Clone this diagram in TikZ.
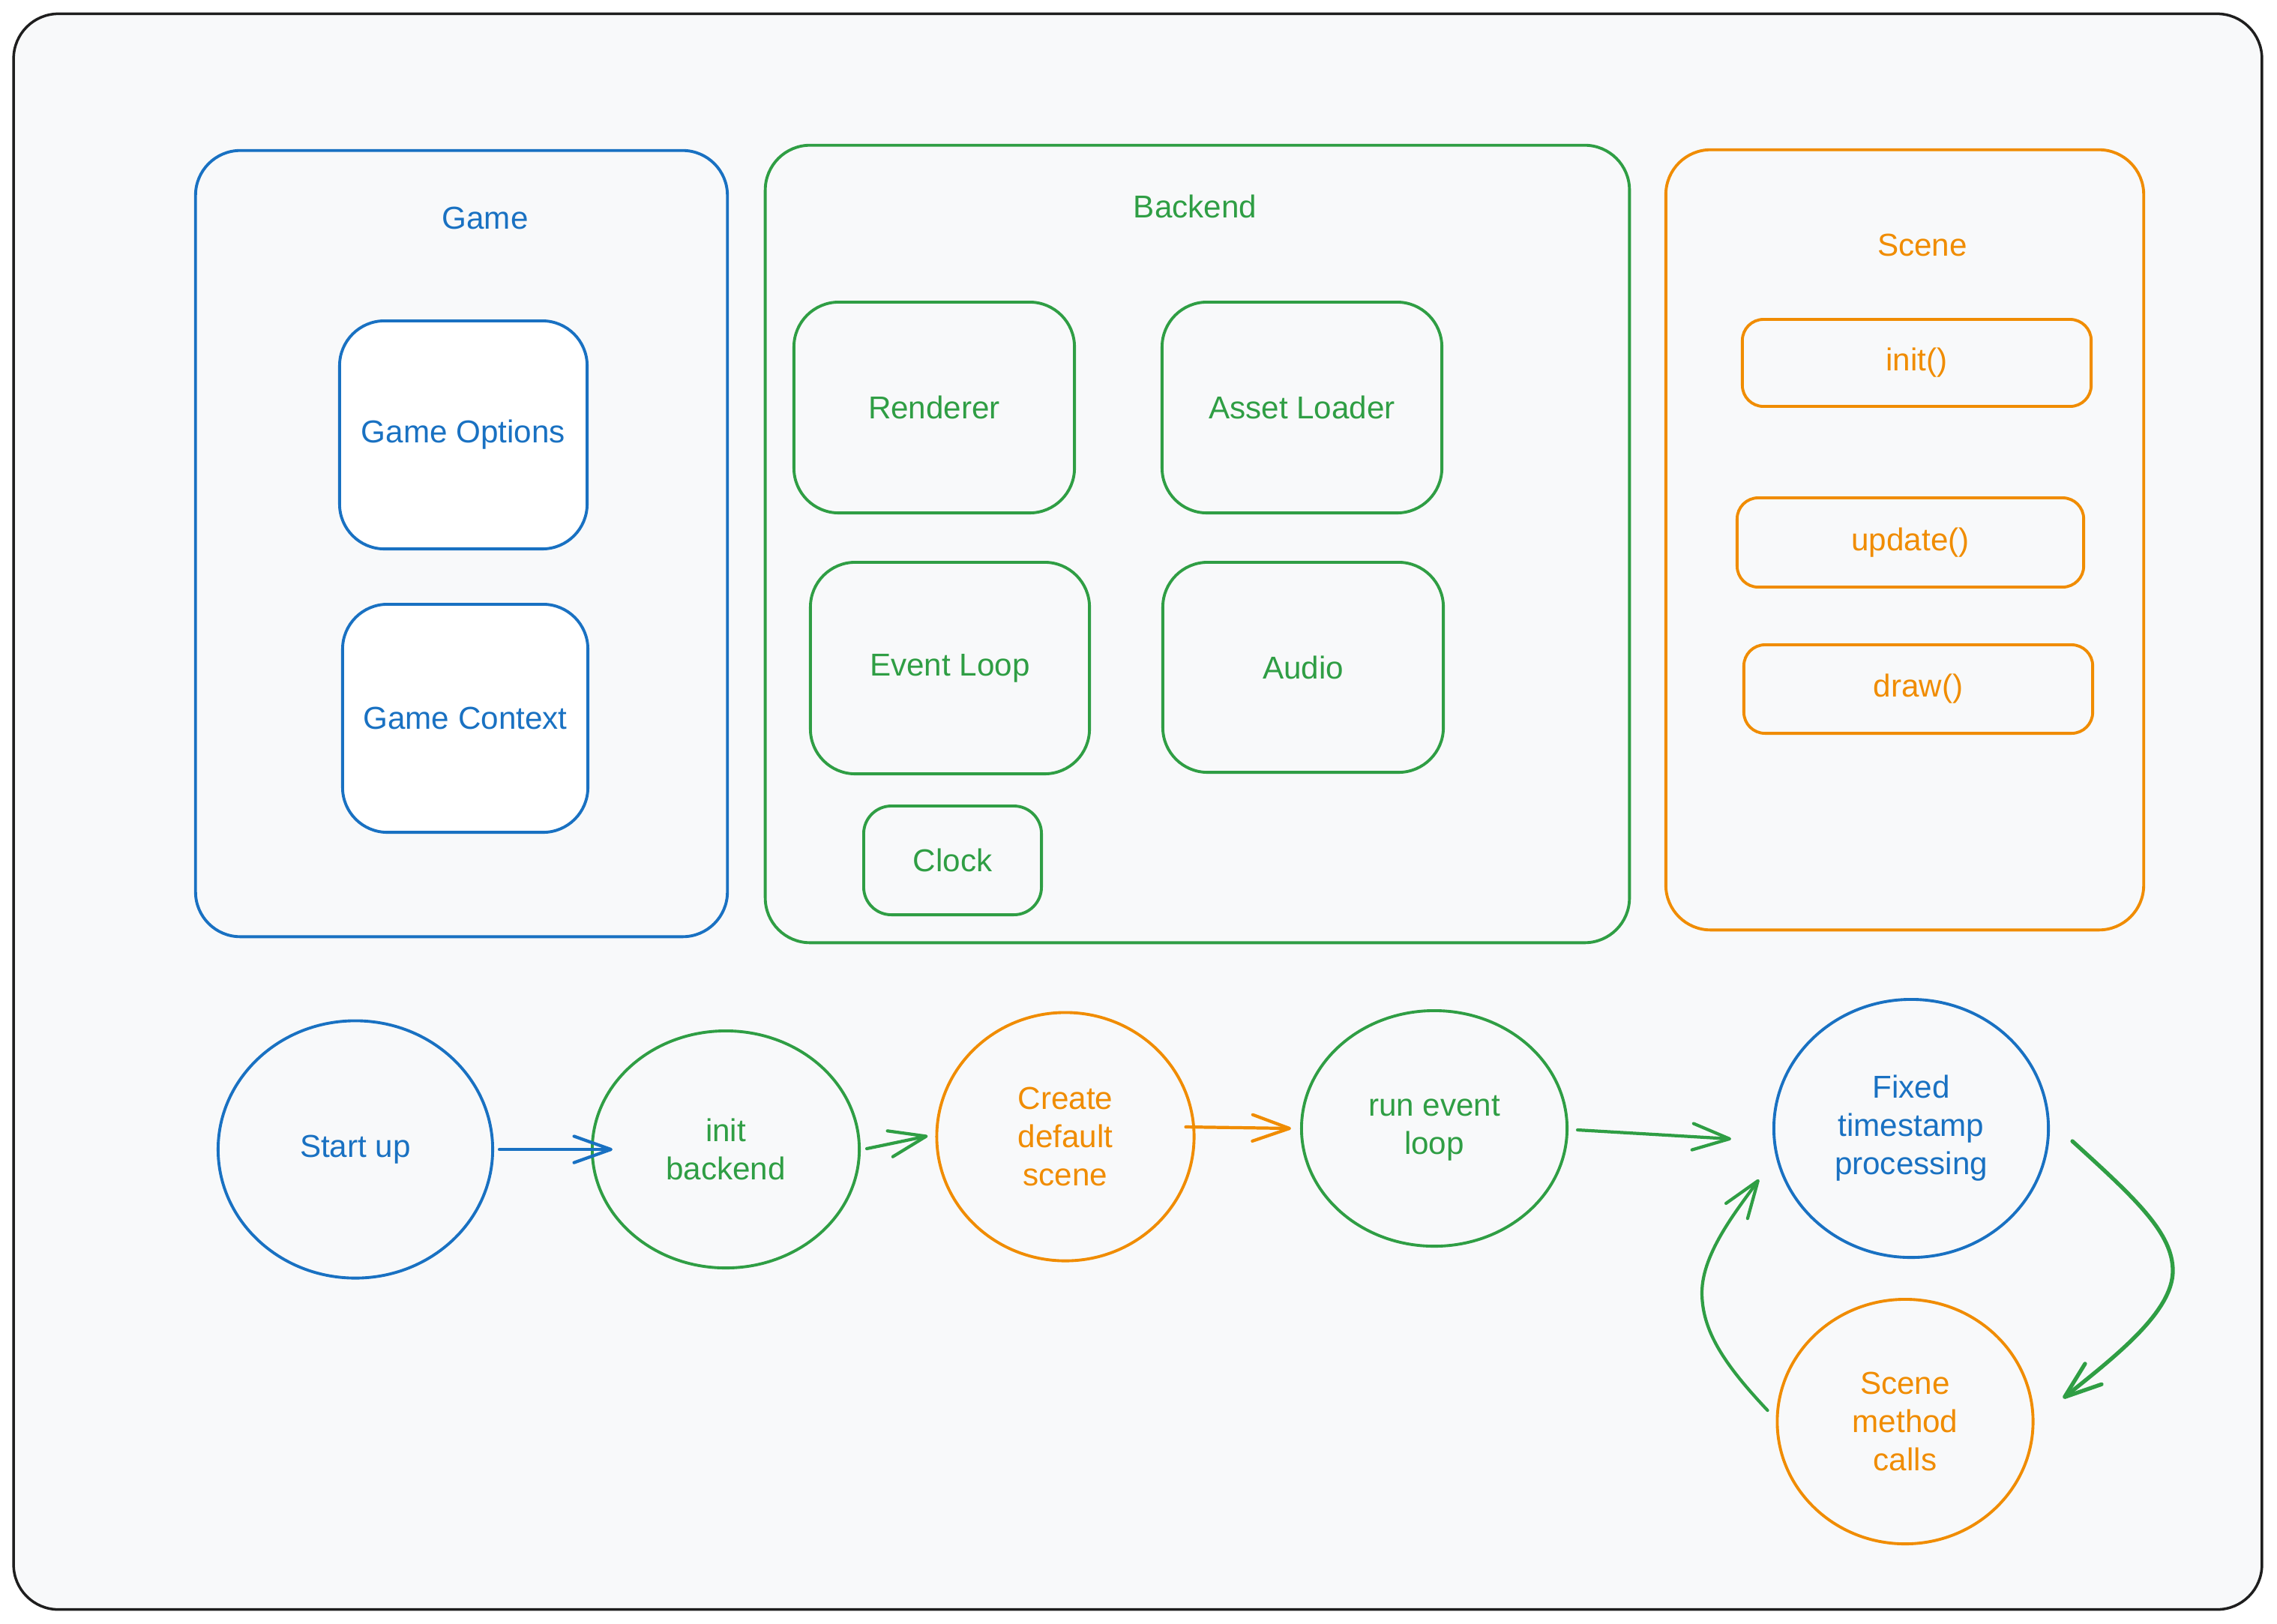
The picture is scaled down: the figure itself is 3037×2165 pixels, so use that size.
\documentclass[tikz,border=0pt]{standalone}
\usepackage{fontspec}
\setmainfont{Liberation Sans}
\usetikzlibrary{arrows.meta,calc,shapes.geometric}
\definecolor{cblue}{HTML}{1971C2}
\definecolor{cgreen}{HTML}{2F9E44}
\definecolor{corange}{HTML}{F08C00}
\definecolor{cbg}{HTML}{F8F9FA}
\definecolor{cframe}{HTML}{1E1E1E}
\begin{document}
\begin{tikzpicture}[x=0.01cm,y=-0.01cm,
  txt/.style={font=\fontsize{12}{14.5}\selectfont, align=center},
  bigbox/.style={draw, line width=1.1pt, rounded corners=17pt, inner sep=0pt, txt},
  midbox/.style={draw, line width=1.1pt, rounded corners=10.5pt, inner sep=0pt, txt},
  smallbox/.style={draw, line width=1.1pt, rounded corners=8pt, inner sep=0pt, txt},
  blob/.style={draw, ellipse, line width=1.1pt, inner sep=0pt, txt},
  arr/.style={line width=1.2pt, line cap=round, -{Straight Barb[length=14pt,width=10pt,round]}},
  bluec/.style={draw=cblue, text=cblue},
  greenc/.style={draw=cgreen, text=cgreen},
  orangec/.style={draw=corange, text=corange}]
\useasboundingbox (0,0) rectangle (3037,2165);
\fill[white] (0,0) rectangle (3037,2165);
\node[draw=cframe, fill=cbg, line width=1pt, rounded corners=17pt, minimum width=29.97cm, minimum height=21.27cm] (frame) at (1517.5,1082.5) {};

% Game
\node[bigbox, bluec, minimum width=7.09cm, minimum height=10.48cm] (game) at (615.5,725) {};
\node[txt, text=cblue] (gamelbl) at (647,291) {Game};
\node[bigbox, bluec, fill=white, minimum width=3.30cm, minimum height=3.04cm] (gopt) at (618,580) {Game Options};
\node[bigbox, bluec, fill=white, minimum width=3.27cm, minimum height=3.04cm] (gctx) at (620.5,958) {Game Context};

% Backend
\node[bigbox, greenc, minimum width=11.52cm, minimum height=10.63cm] (backend) at (1597,725.5) {};
\node[txt, text=cgreen] (backendlbl) at (1594,275) {Backend};
\node[bigbox, greenc, minimum width=3.74cm, minimum height=2.81cm] (rend) at (1246,543.5) {Renderer};
\node[bigbox, greenc, minimum width=3.73cm, minimum height=2.81cm] (asset) at (1736.5,543.5) {Asset Loader};
\node[bigbox, greenc, minimum width=3.72cm, minimum height=2.82cm] (evl) at (1267,891) {Event Loop};
\node[bigbox, greenc, minimum width=3.74cm, minimum height=2.80cm] (audio) at (1738,890) {Audio};
\node[midbox, greenc, minimum width=2.37cm, minimum height=1.45cm] (clock) at (1270.5,1147.5) {Clock};

% Scene
\node[bigbox, orangec, minimum width=6.37cm, minimum height=10.40cm] (scene) at (2540.5,720) {};
\node[txt, text=corange] (scenelbl) at (2564,327) {Scene};
\node[smallbox, orangec, minimum width=4.65cm, minimum height=1.16cm] (init) at (2556.5,484) {init()};
\node[smallbox, orangec, minimum width=4.62cm, minimum height=1.19cm] (upd) at (2548,723.5) {update()};
\node[smallbox, orangec, minimum width=4.65cm, minimum height=1.18cm] (drw) at (2558.5,919) {draw()};

% Flow
\node[blob, bluec, minimum width=3.66cm, minimum height=3.43cm] (su) at (474,1533) {Start up};
\node[blob, greenc, minimum width=3.56cm, minimum height=3.16cm] (ib) at (968,1533) {init\\backend};
\node[blob, orangec, minimum width=3.43cm, minimum height=3.31cm] (cd) at (1421,1516) {Create\\default\\scene};
\node[blob, greenc, minimum width=3.54cm, minimum height=3.14cm] (rel) at (1913,1505) {run event\\loop};
\node[blob, bluec, minimum width=3.66cm, minimum height=3.44cm] (fx) at (2549,1505) {Fixed\\timestamp\\processing};
\node[blob, orangec, minimum width=3.41cm, minimum height=3.26cm] (sm) at (2541,1896) {Scene\\method\\calls};

\draw[arr, cblue] ($(su.east)+(7,0)$) -- ($(ib.west)+(29,0)$);
\draw[arr, cgreen] ($(ib.east)+(8,-1)$) -- ($(cd.west)+(-10,-1)$);
\draw[arr, corange] ($(cd.east)+(-13,-13)$) -- ($(rel.west)+(-12,0)$);
\draw[arr, cgreen] ($(rel.east)+(12,2)$) -- ($(fx.west)+(-55,14)$);
\draw[arr, cgreen, line width=1.5pt] ($(fx.east)+(30,17)$) .. controls (2850,1600) and (2898,1645) .. (2898,1695) .. controls (2898,1750) and (2820,1810) .. ($(sm.east)+(38,-31)$);
\draw[arr, cgreen] ($(sm.west)+(-11,-15)$) .. controls (2300,1820) and (2270,1775) .. (2270,1724) .. controls (2270,1670) and (2320,1610) .. ($(fx.west)+(-18,68)$);
\end{tikzpicture}
\end{document}
